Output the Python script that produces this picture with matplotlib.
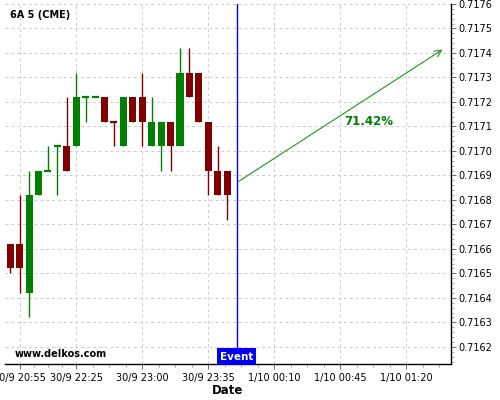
import numpy as np
import matplotlib as mpl
mpl.use('Agg')
from matplotlib import pyplot as plt
from matplotlib.ticker import MultipleLocator, FixedLocator, FormatStrFormatter

# 5 minute candles
opens  = [0.71662, 0.71662, 0.71642, 0.71682, 0.71692, 0.71702, 0.71702, 0.71702,
          0.71722, 0.71722, 0.71722, 0.71712, 0.71702, 0.71722, 0.71722, 0.71702,
          0.71702, 0.71712, 0.71702, 0.71732, 0.71732, 0.71712, 0.71692, 0.71692]
highs  = [0.71662, 0.71682, 0.71692, 0.71692, 0.71702, 0.71702, 0.71722, 0.71732,
          0.71722, 0.71722, 0.71722, 0.71712, 0.71722, 0.71722, 0.71732, 0.71722,
          0.71712, 0.71712, 0.71742, 0.71742, 0.71732, 0.71712, 0.71702, 0.71692]
lows   = [0.71650, 0.71642, 0.71632, 0.71682, 0.71692, 0.71682, 0.71692, 0.71702,
          0.71712, 0.71722, 0.71712, 0.71702, 0.71702, 0.71712, 0.71702, 0.71702,
          0.71692, 0.71692, 0.71702, 0.71722, 0.71712, 0.71682, 0.71682, 0.71672]
closes = [0.71652, 0.71652, 0.71682, 0.71692, 0.71692, 0.71702, 0.71692, 0.71722,
          0.71722, 0.71722, 0.71712, 0.71712, 0.71722, 0.71712, 0.71712, 0.71712,
          0.71712, 0.71702, 0.71732, 0.71722, 0.71712, 0.71692, 0.71682, 0.71682]
red_dojis = [11]

tick_pos = [1, 7, 14, 21, 28, 35, 42]
tick_labels = ['30/9 20:55', '30/9 22:25', '30/9 23:00', '30/9 23:35',
               '1/10 00:10', '1/10 00:45', '1/10 01:20']

event_idx = 24
arrow_start = 0.71687
arrow_end_idx = 46.1
arrow_end = 0.71742
pct_text = '71.42%'

up = '#008000'
down = '#800000'

fig = plt.figure(figsize=(5, 4), dpi=100)
ax = fig.add_axes([0.01, 0.09, 0.892, 0.90])
ax.set_axisbelow(True)

for i, (o, h, l, c) in enumerate(zip(opens, highs, lows, closes)):
    rising = c > o or (c == o and i not in red_dojis)
    col = up if rising else down
    ax.vlines(i, l, h, color=col, lw=1)
    if o == c:
        ax.hlines(o, i - 0.37, i + 0.37, color=col, lw=1.6)
    else:
        ax.bar(i, abs(c - o), bottom=min(o, c), width=0.75, color=col, linewidth=0)

ax.axvline(event_idx, color='blue', lw=1)
ax.annotate('', xy=(arrow_end_idx, arrow_end), xytext=(event_idx, arrow_start),
            arrowprops=dict(arrowstyle='->', color='#1e961e', lw=0.8, mutation_scale=12))
ax.text(38, 0.71712, pct_text, color='#008000', fontsize=8.5, fontweight='bold',
        ha='center', va='center')
ax.annotate('Event', xy=(event_idx, 0), xycoords=('data', 'axes fraction'),
            xytext=(0, 1.8), textcoords='offset points', ha='center', va='bottom',
            color='white', fontsize=7.5, fontweight='bold',
            bbox=dict(boxstyle='square,pad=0.3', fc='#0000ee', ec='none'))

ax.text(0.011, 0.969, '6A 5 (CME)', transform=ax.transAxes, fontsize=7,
        fontweight='bold', va='center', ha='left')
ax.text(0.022, 0.028, 'www.delkos.com', transform=ax.transAxes, fontsize=7,
        fontweight='bold', va='center', ha='left')

ax.set_xlim(-0.56, 46.75)
ax.set_ylim(0.71613, 0.71760)

ax.xaxis.set_major_locator(FixedLocator(tick_pos))
ax.set_xticklabels(tick_labels)
minor = []
for a, b in zip(tick_pos[:-1], tick_pos[1:]):
    minor += [a + (b - a) * k / 4 for k in (1, 2, 3)]
minor += [tick_pos[-1] + 1.75, tick_pos[-1] + 3.5]
ax.xaxis.set_minor_locator(FixedLocator(minor))

ax.yaxis.tick_right()
ax.yaxis.set_major_locator(MultipleLocator(0.0001))
ax.yaxis.set_minor_locator(MultipleLocator(0.00002))
ax.yaxis.set_major_formatter(FormatStrFormatter('%.4f'))

ax.tick_params(which='major', labelsize=7, length=3.5, width=0.6, color='#555555', pad=1.5)
ax.tick_params(which='minor', length=2, width=0.5, color='#888888')
ax.tick_params(axis='x', pad=3)

ax.grid(True, which='major', color='#cccccc', linestyle=(0, (3, 3)), lw=0.7)

for s in ['left', 'top']:
    ax.spines[s].set_visible(False)
ax.spines['right'].set_linewidth(1)
ax.spines['bottom'].set_linewidth(1)

ax.set_xlabel('Date', fontsize=8.5, fontweight='bold', labelpad=1)

plt.savefig('out.png', dpi=100)
